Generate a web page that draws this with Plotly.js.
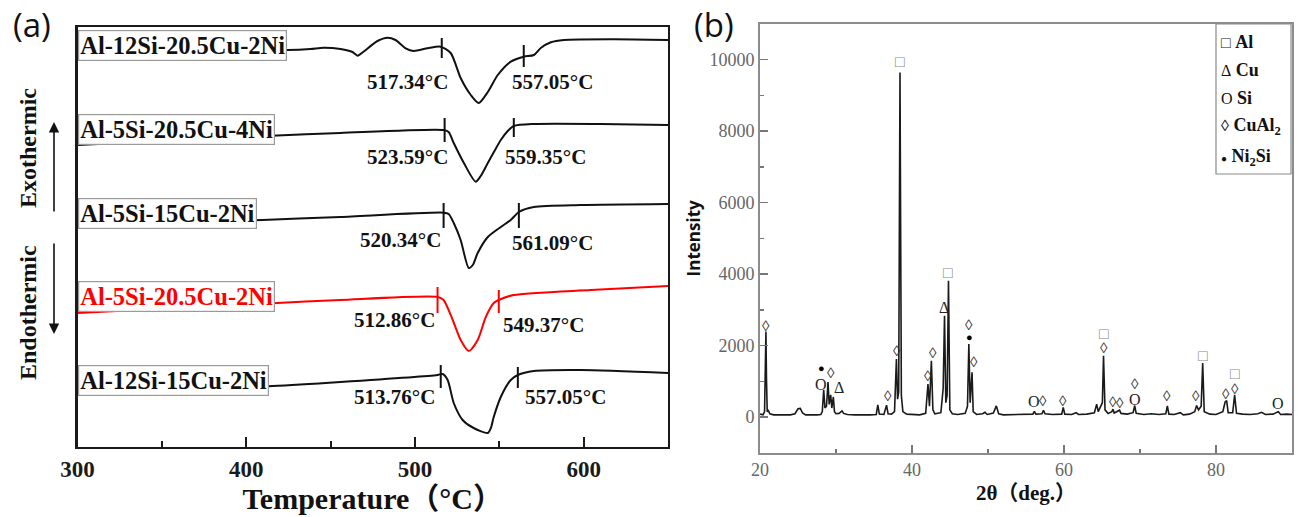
<!DOCTYPE html>
<html>
<head>
<meta charset="utf-8">
<script src="https://cdn.plot.ly/plotly-3.0.1.min.js"></script>
<style>html,body{margin:0;padding:0;background:#fff;}#chart{width:1298px;height:517px;}</style>
</head>
<body>
<div id="chart"></div>
<script>
// ---------- Panel (a): DSC curves ----------
const alloyNames = ["Al-12Si-20.5Cu-2Ni", "Al-5Si-20.5Cu-4Ni", "Al-5Si-15Cu-2Ni", "Al-5Si-20.5Cu-2Ni", "Al-12Si-15Cu-2Ni"];

const tempC1 = [300, 380, 424.4, 438.1, 445.8, 455.9, 463.0, 466.0, 469.5, 477.8, 483.8, 488.5, 494.5, 499.2, 507.5, 515.2, 521.2, 527.1, 533.1, 537.8, 543.2, 549.1, 556.8, 564.5, 570.5, 574.6, 580.6, 588.3, 618.0, 650];
const heatC1 = [397, 398, 397, 398, 399.3, 398, 395, 391.3, 395.3, 406, 409.3, 407, 398.7, 396, 398.7, 400.3, 394, 369, 352, 344, 355, 372, 385.3, 390.3, 392, 399, 404.7, 407, 407.7, 407];

const tempC2 = [300, 418.5, 455.9, 517, 520, 523, 529, 536, 539, 543.2, 546.8, 550.9, 555, 558.6, 570.5, 610, 650];
const heatC2 = [302, 311.5, 314, 317, 315, 304, 284, 265.3, 271, 284, 295, 307, 316, 321, 323, 323, 322];

const tempC3 = [300, 409.6, 455.9, 517, 520, 523, 527.1, 531.9, 534.3, 537.2, 543.2, 550.9, 556.8, 561.6, 570.5, 598.4, 650];
const heatC3 = [219, 227, 230, 234.3, 233, 224, 207, 179, 182, 194, 210, 220, 227, 235, 240, 242, 243];

const tempC4 = [300, 418.5, 455.9, 513.4, 517, 522.4, 527.1, 531.9, 537.2, 542, 546.7, 549.7, 558.6, 604.3, 650];
const heatC4 = [134, 144, 147, 150, 147, 127, 107, 96, 107, 130, 144, 147, 152, 157, 161];

const tempC5 = [300, 415.5, 455.9, 513.4, 516.4, 519.4, 523, 528.3, 534.8, 543.2, 545, 546.7, 550.9, 556.8, 561, 570.5, 598.4, 650];
const heatC5 = [55, 61, 65, 72, 73, 67, 44, 27, 19, 14, 19, 30, 50, 67, 72, 76, 77, 74];

// onset / endset marker temperatures as drawn, and their vertical span
const onsetMarkT = [515.9, 517.6, 517.0, 513.4, 515.3];
const endMarkT   = [564.5, 558.6, 561.6, 549.7, 561.0];
const onsetSpan  = [[389, 409], [305, 329], [219, 244], [134, 160], [59, 82]];
const endSpan    = [[380, 402], [310, 329], [219, 244], [134, 157], [59, 80]];

// temperature labels
const onsetLabels = ["517.34°C", "523.59°C", "520.34°C", "512.86°C", "513.76°C"];
const endLabels   = ["557.05°C", "559.35°C", "561.09°C", "549.37°C", "557.05°C"];

const tempTicks = [300, 400, 500, 600];

// ---------- Panel (b): XRD pattern ----------
const twoTheta = [20.0, 20.4, 20.6, 20.72, 20.78, 20.85, 20.95, 21.1, 21.3, 21.8, 22.5, 23.2, 24.0, 24.6, 25.0, 25.3, 25.6, 26.0, 26.8, 27.5, 28.0, 28.2, 28.38, 28.55, 28.75, 28.95, 29.1, 29.3, 29.45, 29.65, 29.8, 30.0, 30.4, 30.8, 31.0, 31.5, 32.5, 33.5, 34.5, 35.3, 35.5, 35.7, 36.3, 36.65, 36.85, 37.3, 37.7, 37.95, 38.1, 38.25, 38.42, 38.6, 38.8, 39.3, 40.0, 41.0, 41.8, 42.1, 42.3, 42.55, 42.75, 43.0, 43.8, 44.1, 44.28, 44.45, 44.62, 44.8, 44.98, 45.3, 46.0, 47.0, 47.3, 47.48, 47.65, 47.9, 48.05, 48.5, 49.3, 49.6, 49.9, 50.7, 51.1, 51.4, 52.0, 53.0, 54.0, 55.0, 55.9, 56.1, 56.3, 57.1, 57.3, 57.5, 58.5, 59.7, 59.9, 60.1, 61.0, 61.6, 61.9, 63.0, 64.0, 64.3, 64.5, 65.05, 65.2, 65.4, 65.8, 66.3, 66.45, 66.6, 67.3, 67.5, 68.3, 69.1, 69.3, 69.5, 70.5, 71.5, 72.5, 73.4, 73.6, 73.8, 74.5, 75.3, 75.7, 76.5, 77.2, 77.45, 77.7, 78.05, 78.25, 78.45, 79.2, 80.0, 80.9, 81.2, 81.4, 81.6, 82.2, 82.45, 82.7, 83.5, 84.5, 85.5, 86.0, 86.5, 87.5, 88.2, 88.5, 89.3, 90.0];
const intensity = [80, 60, 150, 1300, 2390, 1100, 150, 180, 90, 60, 55, 50, 60, 90, 230, 240, 110, 60, 50, 60, 70, 150, 760, 250, 300, 980, 350, 620, 250, 560, 150, 90, 100, 170, 100, 70, 60, 55, 60, 70, 340, 80, 70, 330, 90, 80, 150, 1620, 500, 700, 9640, 600, 150, 80, 70, 60, 100, 920, 300, 1570, 200, 90, 120, 800, 2830, 400, 600, 3810, 200, 90, 70, 100, 300, 2040, 400, 1250, 150, 70, 90, 130, 70, 110, 310, 90, 60, 70, 60, 70, 80, 160, 80, 90, 190, 90, 70, 80, 270, 80, 70, 120, 70, 80, 120, 360, 150, 400, 1710, 200, 100, 150, 220, 110, 190, 100, 80, 120, 320, 100, 70, 90, 70, 90, 310, 80, 70, 120, 60, 80, 150, 320, 200, 300, 1510, 150, 80, 70, 150, 420, 460, 120, 120, 620, 100, 80, 70, 90, 130, 70, 80, 150, 70, 80, 70];

// phase markers above peaks
const markTheta = [20.75, 28.1, 28.0, 29.4, 30.4, 36.8, 38.0, 38.4, 42.15, 42.7, 44.2, 44.8, 47.5, 47.5, 48.1, 56.0, 57.2, 59.9, 65.2, 65.2, 66.4, 67.4, 69.3, 69.3, 73.6, 77.4, 78.25, 81.3, 82.5, 82.5, 88.2];
const markInt   = [2540, 1370, 923, 1230, 839, 596, 1855, 9938, 1156, 1790, 3068, 4047, 2247, 2573, 1529, 428, 456, 456, 1920, 2350, 428, 400, 503, 923, 596, 596, 1715, 640, 780, 1220, 390];
const markPhase = ["CuAl2", "Ni2Si", "Si", "CuAl2", "Cu", "CuAl2", "CuAl2", "Al", "CuAl2", "CuAl2", "Cu", "Al", "Ni2Si", "CuAl2", "CuAl2", "Si", "CuAl2", "CuAl2", "CuAl2", "Al", "CuAl2", "CuAl2", "Si", "CuAl2", "CuAl2", "CuAl2", "Al", "CuAl2", "CuAl2", "Al", "Si"];

const phaseNames  = ["Al", "Cu", "Si", "CuAl2", "Ni2Si"];
const phaseLabels = ["Al", "Cu", "Si", "CuAl<sub>2</sub>", "Ni<sub>2</sub>Si"];

// ---------- styling (kept separate from data) ----------
const serif = "Liberation Serif, Times New Roman, Noto Sans CJK SC, serif";
const curveColors = ["#111", "#111", "#111", "#ff0000", "#111"];
const phaseSymbol = {Al: "□", Cu: "Δ", Si: "O", CuAl2: "◊", Ni2Si: "●"};
const phaseSymColor = {Al: "#888", Cu: "#222", Si: "#222", CuAl2: "#333", Ni2Si: "#000"};
const phaseSymSize = {Al: 16, Cu: 16, Si: 16, CuAl2: 15, Ni2Si: 11};

const W = 1298, H = 517;
const px = x => x / W, py = y => 1 - y / H;

const curveT = [tempC1, tempC2, tempC3, tempC4, tempC5];
const curveH = [heatC1, heatC2, heatC3, heatC4, heatC5];

const traces = [];
curveT.forEach((t, i) => {
  traces.push({x: t, y: curveH[i], type: "scatter", mode: "lines", xaxis: "x", yaxis: "y",
    line: {color: curveColors[i], width: 2, shape: "spline", smoothing: 0.7}, hoverinfo: "skip"});
  traces.push({x: [onsetMarkT[i], onsetMarkT[i], null, endMarkT[i], endMarkT[i]],
    y: [onsetSpan[i][0], onsetSpan[i][1], null, endSpan[i][0], endSpan[i][1]],
    type: "scatter", mode: "lines", xaxis: "x", yaxis: "y",
    line: {color: curveColors[i], width: 2}, hoverinfo: "skip"});
});
traces.push({x: twoTheta, y: intensity, type: "scatter", mode: "lines", xaxis: "x2", yaxis: "y2",
  line: {color: "#1a1a1a", width: 1.6}, hoverinfo: "skip"});

const annotations = [];
const P = (x, y, extra) => Object.assign({xref: "paper", yref: "paper", x: px(x), y: py(y), xanchor: "center", yanchor: "middle", showarrow: false}, extra);
// alloy label boxes (left side of panel a)
const boxCenters = [45, 129, 213, 296, 380];
alloyNames.forEach((n, i) => {
  annotations.push(P(77.5, boxCenters[i], {xanchor: "left",
    text: "<b>" + n + "</b>", font: {family: serif, size: 24.5, color: i === 3 ? "#ff0000" : "#111"},
    bgcolor: "#fff", bordercolor: "#9a9a9a", borderwidth: 1.2, borderpad: 1}));
});
// temperature labels
const onsetLabelPos = [[495.7, 365], [495.7, 290], [491.6, 207], [488, 127], [488, 50]];
const endLabelPos   = [[581.8, 365], [577.6, 290], [581.8, 204], [576.1, 122], [589, 50]];
onsetLabels.forEach((s, i) => {
  annotations.push({xref: "x", yref: "y", x: onsetLabelPos[i][0], y: onsetLabelPos[i][1], text: "<b>" + s + "</b>",
    xanchor: "center", yanchor: "middle", showarrow: false, font: {family: serif, size: 21, color: "#111"}});
  annotations.push({xref: "x", yref: "y", x: endLabelPos[i][0], y: endLabelPos[i][1], text: "<b>" + endLabels[i] + "</b>",
    xanchor: "center", yanchor: "middle", showarrow: false, font: {family: serif, size: 21, color: "#111"}});
});
// Exothermic / Endothermic + arrows
annotations.push(P(28, 148, {text: "<b>Exothermic</b>", textangle: -90, font: {family: serif, size: 24, color: "#111"}}));
annotations.push(P(28, 313, {text: "<b>Endothermic</b>", textangle: -90, font: {family: serif, size: 24, color: "#111"}}));
annotations.push(P(54, 122, {ax: 0, ay: 91, text: "", showarrow: true, arrowhead: 2, arrowsize: 1.3, arrowwidth: 1.6, arrowcolor: "#111"}));
annotations.push(P(54, 334, {ax: 0, ay: -92, text: "", showarrow: true, arrowhead: 2, arrowsize: 1.3, arrowwidth: 1.6, arrowcolor: "#111"}));
// panel letters
annotations.push(P(32, 25, {text: "(a)", font: {family: "Open Sans, sans-serif", size: 33, color: "#111"}}));
annotations.push(P(714, 25, {text: "(b)", font: {family: "Open Sans, sans-serif", size: 33, color: "#111"}}));
// phase markers in panel b
markTheta.forEach((t, i) => {
  const ph = markPhase[i];
  annotations.push({xref: "x2", yref: "y2", x: t, y: markInt[i], text: phaseSymbol[ph], showarrow: false,
    xanchor: "center", yanchor: "middle", font: {family: serif, size: phaseSymSize[ph], color: phaseSymColor[ph]}});
});
// legend entries panel b
const legendRows = [42, 70, 98, 126, 157];
phaseNames.forEach((ph, i) => {
  annotations.push(P(1219, legendRows[i], {xanchor: "left",
    text: '<span style="font-size:' + (ph === "Ni2Si" ? 10 : 16) + 'px">' + phaseSymbol[ph] + '</span> <b>' + phaseLabels[i] + '</b>',
    font: {family: serif, size: 18, color: "#111"}}));
});

const shapes = [{type: "rect", xref: "paper", yref: "paper", x0: px(1216), x1: px(1291), y0: py(174), y1: py(24),
  line: {color: "#8a8a8a", width: 1.2}, fillcolor: "rgba(0,0,0,0)"}];

const layout = {
  width: W, height: H, margin: {l: 0, r: 0, t: 0, b: 0},
  paper_bgcolor: "#fff", plot_bgcolor: "#fff", showlegend: false,
  font: {family: serif, color: "#111"},
  xaxis: {domain: [px(77.5), px(668)], range: [300, 650], anchor: "y",
    showline: true, linecolor: "#1a1a1a", linewidth: 2.2, mirror: true,
    ticks: "inside", ticklen: 10, tickwidth: 2, tickcolor: "#1a1a1a",
    tickmode: "array", tickvals: tempTicks, ticktext: tempTicks.map(String),
    minor: {ticks: "inside", ticklen: 6, tickwidth: 2, tickcolor: "#1a1a1a", dtick: 50, tick0: 300},
    tickfont: {family: serif, size: 23, color: "#1a1a1a", weight: "bold"},
    showgrid: false, zeroline: false, fixedrange: true,
    title: {text: "<b>Temperature（°C）</b>", font: {family: serif, size: 30, color: "#111"}, standoff: 3}},
  yaxis: {domain: [py(447), py(27)], range: [0, 420], anchor: "x",
    showline: true, linecolor: "#1a1a1a", linewidth: 2.2, mirror: true,
    ticks: "", showticklabels: false, showgrid: false, zeroline: false, fixedrange: true},
  xaxis2: {domain: [px(760), px(1292)], range: [20, 90], anchor: "y2",
    showline: true, linecolor: "#8c8c8c", linewidth: 2, mirror: true,
    ticks: "inside", ticklen: 8, tickwidth: 1.5, tickcolor: "#777",
    tick0: 20, dtick: 20, tickformat: "d",
    minor: {ticks: "inside", ticklen: 4, tickwidth: 1.5, tickcolor: "#777", dtick: 10},
    tickfont: {family: serif, size: 18, color: "#666"},
    showgrid: false, zeroline: false, fixedrange: true,
    title: {text: "<b>2θ（deg.）</b>", font: {family: serif, size: 21, color: "#111"}, standoff: 6}},
  yaxis2: {domain: [py(452.7), py(24)], range: [-1000, 11000], anchor: "x2",
    showline: true, linecolor: "#8c8c8c", linewidth: 2, mirror: true,
    ticks: "inside", ticklen: 8, tickwidth: 1.5, tickcolor: "#777",
    tick0: 0, dtick: 2000, tickformat: "d",
    minor: {ticks: "inside", ticklen: 4, tickwidth: 1.5, tickcolor: "#777", dtick: 1000},
    tickfont: {family: serif, size: 18, color: "#666"},
    showgrid: false, zeroline: false, fixedrange: true,
    title: {text: "<b>Intensity</b>", font: {family: "Open Sans, sans-serif", size: 17, color: "#111"}, standoff: 4}},
  annotations: annotations, shapes: shapes
};

Plotly.newPlot("chart", traces, layout, {displayModeBar: false, staticPlot: true});
</script>
</body>
</html>
